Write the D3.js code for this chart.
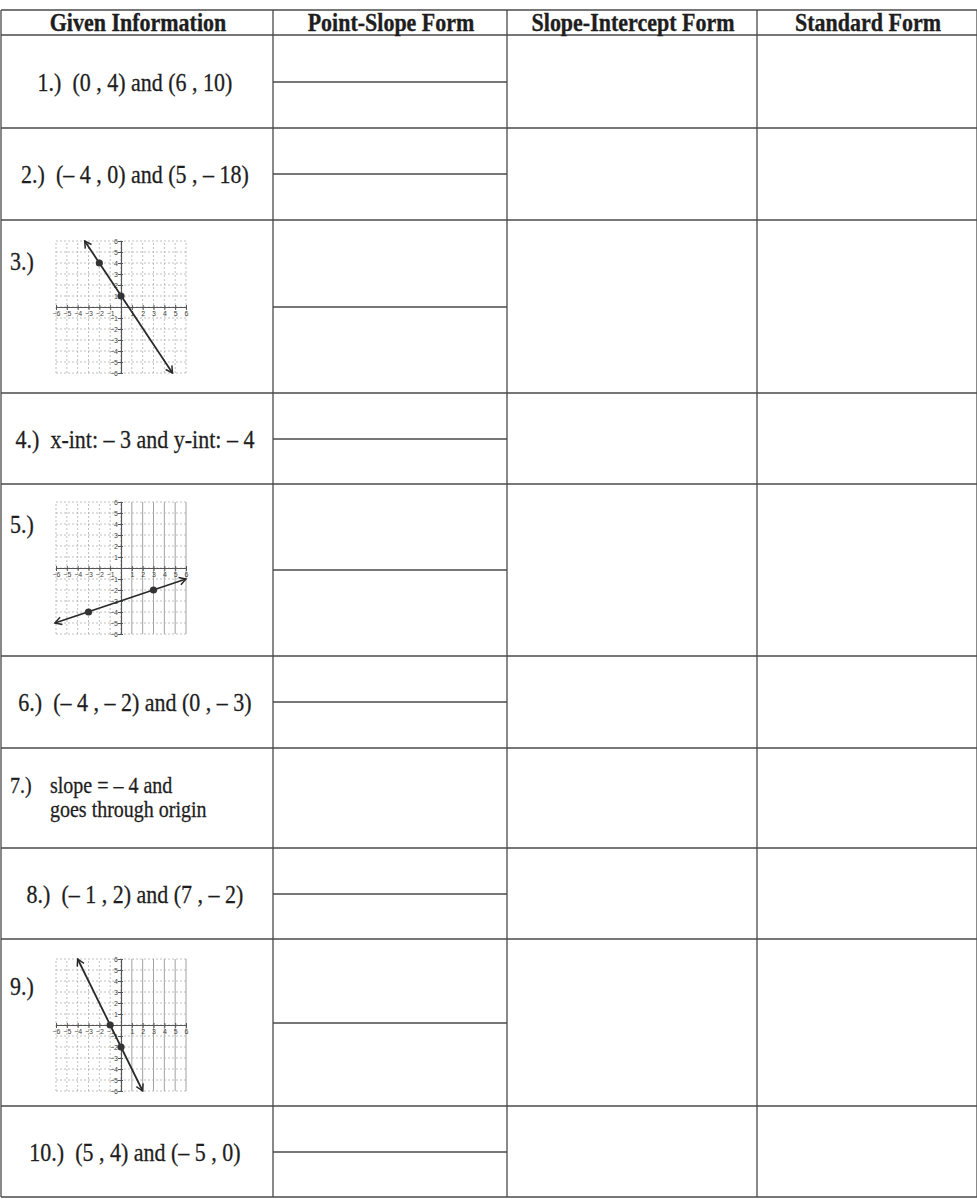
<!DOCTYPE html>
<html>
<head>
<meta charset="utf-8">
<script src="https://cdn.jsdelivr.net/npm/d3@7"></script>
<style>
  body { margin: 0; background: #fff; }
  text { font-family: "Liberation Serif", "Times New Roman", serif; fill: #1e1e1e; white-space: pre; }
  .head { font-weight: bold; font-size: 22px; stroke: #1e1e1e; stroke-width: 0.3px; }
  .given { font-size: 22px; stroke: #1e1e1e; stroke-width: 0.25px; }
  .small { font-size: 20px; stroke: #1e1e1e; stroke-width: 0.25px; }
  text.tick { font-family: "Liberation Sans", Arial, sans-serif; font-size: 7px; fill: #444; }
</style>
</head>
<body>
<div id="sheet"></div>
<script>
// table content
var headers = ["Given Information", "Point-Slope Form", "Slope-Intercept Form", "Standard Form"];
var givenInfo = [
  "1.)  (0 , 4) and (6 , 10)",
  "2.)  (\u2013 4 , 0) and (5 , \u2013 18)",
  "3.)",
  "4.)  x-int: \u2013 3 and y-int: \u2013 4",
  "5.)",
  "6.)  (\u2013 4 , \u2013 2) and (0 , \u2013 3)",
  "7.)",
  "8.)  (\u2013 1 , 2) and (7 , \u2013 2)",
  "9.)",
  "10.)  (5 , 4) and (\u2013 5 , 0)"
];
var row7Lines = ["slope = \u2013 4 and", "goes through origin"];
var dividerRows = [1, 2, 3, 4, 5, 6, 8, 9, 10];

// graphs drawn in rows 3, 5 and 9
var graphRows = [3, 5, 9];
var graph3Points = [[-2, 4], [0, 1]];
var graph5Points = [[-3, -4], [3, -2]];
var graph9Points = [[-1, 0], [0, -2]];
var graph3Line = [[-3.35, 6], [4.75, -6]];
var graph5Line = [[-6.1, -5.0], [6.0, -1.0]];
var graph9Line = [[-4.0, 6], [2.0, -6]];
var tickValues = [-6, -5, -4, -3, -2, -1, 1, 2, 3, 4, 5, 6];

// layout
var W = 977, H = 1199;
var colEdges = [1, 273, 507, 757, 977];
var headTop = 10;
var rowEdges = [35, 128, 220, 393, 484, 656, 748, 848, 939, 1106, 1197];
var graphBox = { left: 56, width: 130, height: 132 };
var graphTops = [241, 502, 959];
var graphLabelDy = [50, 49, 56];
var stretch = 1.12;

var svg = d3.select("#sheet").append("svg")
    .attr("width", W)
    .attr("height", H);

svg.append("rect").attr("width", W).attr("height", H).attr("fill", "#fff");

var lines = svg.append("g")
    .attr("stroke", "#4a4a4a")
    .attr("stroke-width", 1.3)
    .attr("fill", "none");

// horizontal rules
var hRules = [headTop].concat(rowEdges);
lines.selectAll("line.h")
    .data(hRules)
    .enter()
    .append("line")
    .attr("x1", colEdges[0]).attr("x2", colEdges[4])
    .attr("y1", d => d).attr("y2", d => d);

// vertical rules
lines.selectAll("line.v")
    .data(colEdges)
    .enter()
    .append("line")
    .attr("x1", d => d).attr("x2", d => d)
    .attr("y1", headTop).attr("y2", rowEdges[rowEdges.length - 1]);

// point-slope dividers
lines.selectAll("line.div")
    .data(dividerRows)
    .enter()
    .append("line")
    .attr("x1", colEdges[1]).attr("x2", colEdges[2])
    .attr("y1", d => Math.round((rowEdges[d - 1] + rowEdges[d]) / 2))
    .attr("y2", d => Math.round((rowEdges[d - 1] + rowEdges[d]) / 2));

function stretched(sel, x, y) {
    return sel.attr("transform", `translate(${x},${y}) scale(1,${stretch})`);
}

// headers
headers.forEach(function(h, i) {
    stretched(svg.append("text").attr("class", "head").attr("text-anchor", "middle"),
        (colEdges[i] + colEdges[i + 1]) / 2 + 1, 31).text(h);
});

// given information column
givenInfo.forEach(function(t, i) {
    var row = i + 1;
    var top = rowEdges[i], bottom = rowEdges[i + 1];
    var gi = graphRows.indexOf(row);
    if (gi >= 0) {
        stretched(svg.append("text").attr("class", "given"), 10, top + graphLabelDy[gi]).text(t);
    } else if (row === 7) {
        stretched(svg.append("text").attr("class", "small"), 10, 793).text(t);
        row7Lines.forEach(function(l, k) {
            stretched(svg.append("text").attr("class", "small"), 50, 793 + k * 24).text(l);
        });
    } else {
        stretched(svg.append("text").attr("class", "given").attr("text-anchor", "middle"),
            135, (top + bottom) / 2 + 9).text(t);
    }
});

// arrow markers
var defs = svg.append("defs");
["start", "end"].forEach(function(k) {
    defs.append("marker")
        .attr("id", "arrow-" + k)
        .attr("viewBox", "-10 -6 12 12")
        .attr("refX", 0).attr("refY", 0)
        .attr("markerWidth", 10).attr("markerHeight", 10)
        .attr("markerUnits", "userSpaceOnUse")
        .attr("orient", k === "start" ? "auto-start-reverse" : "auto")
        .append("path")
        .attr("d", "M-8,-4.5 L0,0 L-8,4.5")
        .attr("fill", "none")
        .attr("stroke", "#2a2a2a")
        .attr("stroke-width", 1.8);
});

function drawGraph(top, points, ends, solidRight) {
    var x = d3.scaleLinear().domain([-6, 6]).range([graphBox.left, graphBox.left + graphBox.width]);
    var y = d3.scaleLinear().domain([-6, 6]).range([top + graphBox.height, top]);
    var g = svg.append("g");
    var grid = d3.range(-6, 7);

    g.selectAll("line.gx")
        .data(grid)
        .enter()
        .append("line")
        .attr("x1", d => x(d)).attr("x2", d => x(d))
        .attr("y1", y(-6)).attr("y2", y(6))
        .attr("stroke", d => (solidRight && d > 0) ? "#8a8a8a" : "#b0b0b0")
        .attr("stroke-width", 0.8)
        .attr("stroke-dasharray", d => (solidRight && d > 0) ? null : "2,2");

    g.selectAll("line.gy")
        .data(grid)
        .enter()
        .append("line")
        .attr("x1", x(-6)).attr("x2", x(6))
        .attr("y1", d => y(d)).attr("y2", d => y(d))
        .attr("stroke", "#b0b0b0")
        .attr("stroke-width", 0.8)
        .attr("stroke-dasharray", "2,2");

    // axes
    var xAxis = d3.axisBottom(x).tickValues(tickValues).tickSize(3).tickSizeOuter(0);
    var yAxis = d3.axisLeft(y).tickValues(tickValues).tickSize(3).tickSizeOuter(0);

    var ax = g.append("g")
        .attr("transform", `translate(0,${y(0)})`)
        .call(xAxis);
    ax.select(".domain").attr("stroke", "#555").attr("stroke-width", 1.2);
    ax.selectAll(".tick line").attr("stroke", "#555").attr("y1", -2);
    ax.selectAll(".tick text").attr("class", "tick").attr("y", 4).attr("font-size", null).attr("font-family", null);

    var ay = g.append("g")
        .attr("transform", `translate(${x(0)},0)`)
        .call(yAxis);
    ay.select(".domain").attr("stroke", "#555").attr("stroke-width", 1.2);
    ay.selectAll(".tick line").attr("stroke", "#555").attr("x1", 2);
    ay.selectAll(".tick text").attr("class", "tick").attr("x", -3).attr("font-size", null).attr("font-family", null);

    // the line
    g.append("line")
        .attr("x1", x(ends[0][0])).attr("y1", y(ends[0][1]))
        .attr("x2", x(ends[1][0])).attr("y2", y(ends[1][1]))
        .attr("stroke", "#2a2a2a")
        .attr("stroke-width", 1.8)
        .attr("marker-start", "url(#arrow-start)")
        .attr("marker-end", "url(#arrow-end)");

    g.selectAll("circle")
        .data(points)
        .enter()
        .append("circle")
        .attr("cx", d => x(d[0]))
        .attr("cy", d => y(d[1]))
        .attr("r", 3.6)
        .attr("fill", "#333");
}

drawGraph(graphTops[0], graph3Points, graph3Line, false);
drawGraph(graphTops[1], graph5Points, graph5Line, true);
drawGraph(graphTops[2], graph9Points, graph9Line, true);
</script>
</body>
</html>
